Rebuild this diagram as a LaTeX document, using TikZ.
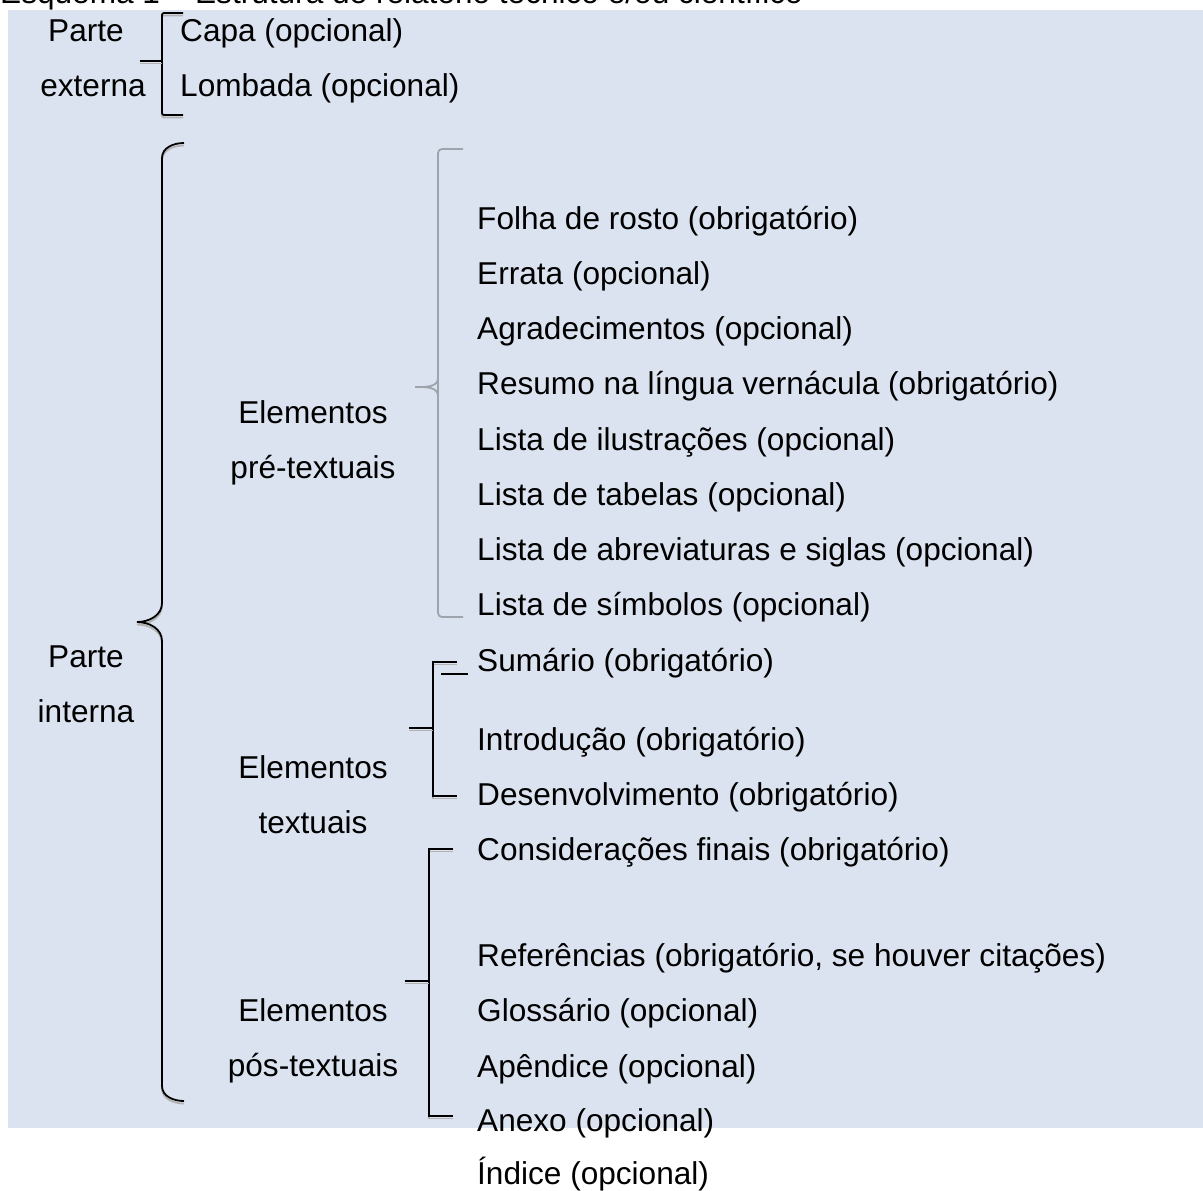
\documentclass[tikz,border=0pt]{standalone}
\usepackage{fontspec}
\setmainfont{Liberation Sans}
\usepackage{xcolor}
\usepackage{tikz}
\usetikzlibrary{positioning}

\definecolor{panelbg}{RGB}{220,227,240}
\definecolor{bracegrey}{RGB}{158,163,172}

\tikzset{
  every node/.style={font=\fontsize{31.6}{37}\selectfont, inner sep=0pt},
  entry/.style={anchor=base west},
  group/.style={anchor=base},
  brace/.style={draw=black, line width=1.8pt,
    preaction={draw=black!30, line width=1.8pt, transform canvas={yshift=-2.5pt}}},
  greybrace/.style={draw=bracegrey, line width=1.8pt}
}

\begin{document}
\begin{tikzpicture}[x=1pt, y=-1pt]
  \useasboundingbox (0,0) rectangle (1203,1191);
  \fill[panelbg] (8,10) rectangle (1203,1128);

  % caption, cut at the top of the page
  \node[entry] (caption) at (0,4) {Esquema 1 -- Estrutura de relatório técnico e/ou científico};

  % parte externa
  \node[group] (ext1) at (86,41) {Parte};
  \node[group] (ext2) at (93,96) {externa};
  \node[entry] (capa) at (180,41) {Capa (opcional)};
  \node[entry] (lombada) at (180,96) {Lombada (opcional)};
  \draw[brace, rounded corners=2pt] (183,13) -| (162,115) -- (183,115);
  \draw[brace] (140,61) -- (162,61);

  % parte interna
  \node[group] (int1) at (86,667) {Parte};
  \node[group] (int2) at (86,722) {interna};
  \draw[brace] (184,143) to[out=180,in=90] (162,158) -- (162,603)
    to[out=-90,in=0] (137,622) to[out=0,in=90] (162,641) -- (162,1086)
    to[out=-90,in=180] (184,1101);

  % elementos pre-textuais
  \node[group] (pre1) at (313,423) {Elementos};
  \node[group] (pre2) at (313,478) {pré-textuais};
  \node[entry] (folha) at (477,229) {Folha de rosto (obrigatório)};
  \node[entry] (errata) at (477,284) {Errata (opcional)};
  \node[entry] (agradec) at (477,339) {Agradecimentos (opcional)};
  \node[entry] (resumo) at (477,394) {Resumo na língua vernácula (obrigatório)};
  \node[entry] (ilustr) at (477,450) {Lista de ilustrações (opcional)};
  \node[entry] (tabelas) at (477,505) {Lista de tabelas (opcional)};
  \node[entry] (abrev) at (477,560) {Lista de abreviaturas e siglas (opcional)};
  \node[entry] (simbolos) at (477,615) {Lista de símbolos (opcional)};
  \draw[greybrace, rounded corners=4pt] (463,149) -| (438,617) -- (463,617);
  \draw[greybrace] (438,378) to[out=-90,in=0] (415,387);
  \draw[greybrace] (415,387) to[out=0,in=90] (438,396);

  % elementos textuais
  \node[group] (txt1) at (313,778) {Elementos};
  \node[group] (txt2) at (313,833) {textuais};
  \node[entry] (sumario) at (477,671) {Sumário (obrigatório)};
  \node[entry] (intro) at (477,750) {Introdução (obrigatório)};
  \node[entry] (desenv) at (477,805) {Desenvolvimento (obrigatório)};
  \draw[brace] (457,662) -| (433,796) -- (457,796);
  \draw[brace] (409,728) -- (433,728);
  \draw[line width=2.8pt] (441,674) -- (468,674);

  % elementos pos-textuais
  \node[group] (pos1) at (313,1021) {Elementos};
  \node[group] (pos2) at (313,1076) {pós-textuais};
  \node[entry] (consid) at (477,860) {Considerações finais (obrigatório)};
  \node[entry] (refs) at (477,966) {Referências (obrigatório, se houver citações)};
  \node[entry] (glossario) at (477,1021) {Glossário (opcional)};
  \node[entry] (apendice) at (477,1077) {Apêndice (opcional)};
  \node[entry] (anexo) at (477,1131) {Anexo (opcional)};
  \node[entry] (indice) at (477,1184) {Índice (opcional)};
  \draw[brace] (453,849) -| (429,1116) -- (453,1116);
  \draw[brace] (405,981) -- (429,981);
\end{tikzpicture}
\end{document}
